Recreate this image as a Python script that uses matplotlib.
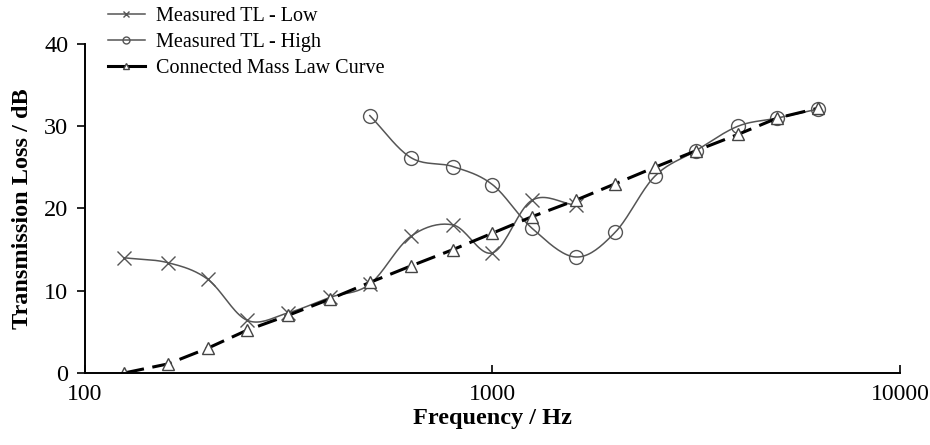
import matplotlib
matplotlib.use("Agg")
import matplotlib.pyplot as plt
import numpy as np

# third-octave centre frequencies
freq = [125, 160, 200, 250, 315, 400, 500, 630, 800, 1000, 1250, 1600,
        2000, 2500, 3150, 4000, 5000, 6300]

freq_low = [125, 160, 200, 250, 315, 400, 500, 630, 800, 1000, 1250, 1600]
tl_low = [14.0, 13.4, 11.4, 6.4, 7.3, 9.2, 10.8, 16.6, 18.0, 14.6, 21.0, 20.4]

freq_high = [500, 630, 800, 1000, 1250, 1600, 2000, 2500, 3150, 4000, 5000, 6300]
tl_high = [31.3, 26.2, 25.1, 22.9, 17.6, 14.1, 17.1, 23.9, 27.0, 30.0, 31.0, 32.1]

mass_law = [0.0, 1.1, 3.0, 5.2, 7.0, 9.0, 11.0, 13.0, 15.0, 17.0, 19.0, 21.0,
            23.0, 25.0, 27.0, 29.0, 31.0, 32.2]

plt.rcParams['font.family'] = ['Liberation Serif', 'DejaVu Serif']


def smooth(xs, ys, n=20):
    # Excel-like smoothed line: Catmull-Rom spline in log-frequency space
    lx = np.log10(xs)
    ys = np.asarray(ys, float)
    px = np.concatenate([[2 * lx[0] - lx[1]], lx, [2 * lx[-1] - lx[-2]]])
    py = np.concatenate([[2 * ys[0] - ys[1]], ys, [2 * ys[-1] - ys[-2]]])
    outx, outy = [], []
    t = np.linspace(0, 1, n, endpoint=False)
    for i in range(1, len(px) - 2):
        for p, out in ((px, outx), (py, outy)):
            p0, p1, p2, p3 = p[i - 1], p[i], p[i + 1], p[i + 2]
            out.extend(0.5 * ((2 * p1) + (-p0 + p2) * t
                              + (2 * p0 - 5 * p1 + 4 * p2 - p3) * t ** 2
                              + (-p0 + 3 * p1 - 3 * p2 + p3) * t ** 3))
    outx.append(lx[-1])
    outy.append(ys[-1])
    return 10 ** np.array(outx), np.array(outy)


fig = plt.figure(figsize=(9.3, 4.45), dpi=100)
ax = fig.add_axes([0.0914, 0.162, 0.8763, 0.739])

grey = '#555555'

sx, sy = smooth(freq_low, tl_low)
ax.plot(sx, sy, color=grey, lw=1.1)
ax.plot(freq_low, tl_low, ls='none', marker='x', ms=10, mew=1.0, color=grey)

sx, sy = smooth(freq_high, tl_high)
ax.plot(sx, sy, color=grey, lw=1.1)
ax.plot(freq_high, tl_high, ls='none', marker='o', ms=10, mew=1.0,
        mfc='none', mec=grey)

ax.plot(freq, mass_law, color='black', lw=2.2, dashes=(6.5, 2.8))
ax.plot(freq, mass_law, ls='none', marker='^', ms=9, mew=1.0,
        mfc='white', mec='#444444')

# legend proxies
h_low, = ax.plot([], [], color=grey, lw=1.1, marker='x', ms=5, mew=1.0)
h_high, = ax.plot([], [], color=grey, lw=1.1, marker='o', ms=5, mew=1.0,
                  mfc='none', mec=grey)
h_mass, = ax.plot([], [], color='black', lw=2.2, marker='^', ms=5, mew=1.0,
                  mfc='white', mec='#444444')
fig.legend([h_low, h_high, h_mass],
           ['Measured TL - Low', 'Measured TL - High', 'Connected Mass Law Curve'],
           loc='upper left', bbox_to_anchor=(0.097, 1.025), frameon=False,
           fontsize=14.5, handlelength=1.8, handletextpad=0.55, labelspacing=0.34)

ax.set_xscale('log')
ax.set_xlim(100, 10000)
ax.set_ylim(0, 40)
ax.set_yticks([0, 10, 20, 30, 40])
ax.set_xticks([100, 1000, 10000])
ax.set_xticklabels(['100', '1000', '10000'])
ax.minorticks_off()
ax.tick_params(axis='x', direction='in', length=6, width=1.2, labelsize=17, pad=8)
ax.tick_params(axis='y', direction='out', length=6, width=1.2, labelsize=17.5, pad=6)

for s in ['top', 'right']:
    ax.spines[s].set_visible(False)
for s in ['left', 'bottom']:
    ax.spines[s].set_linewidth(1.4)

ax.set_xlabel('Frequency / Hz', fontsize=17.5, fontweight='bold', labelpad=2)
ax.set_ylabel('Transmission Loss / dB', fontsize=17.5, fontweight='bold', labelpad=8)

fig.savefig('out.png', dpi=100)
